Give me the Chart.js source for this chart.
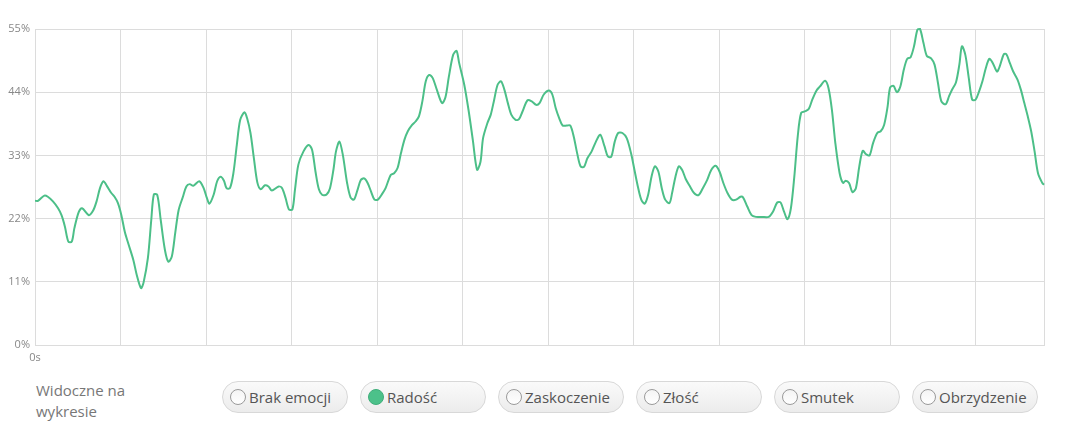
<!DOCTYPE html>
<html>
<head>
<meta charset="utf-8">
<script src="https://cdn.jsdelivr.net/npm/chart.js@4"></script>
<style>
  html, body { margin: 0; padding: 0; background: #fff; }
  body { width: 1078px; height: 437px; position: relative; overflow: hidden; font-family: "Open Sans", sans-serif; }
  #wrap { position: absolute; left: 0; top: 0; width: 1078px; height: 370px; }
  .caption { position: absolute; left: 36px; top: 380px; font-size: 15px; line-height: 21px; color: #777; }
  .pill {
    position: absolute; top: 381px; width: 124px; height: 30px;
    border: 1px solid #d8d8d8; border-radius: 16px;
    background: linear-gradient(#fafafa, #ececec);
    font-size: 15px; line-height: 30px; color: #555; box-sizing: content-box;
  }
  .pill .dot {
    position: absolute; left: 7px; top: 7px; width: 14px; height: 14px; border-radius: 50%;
    border: 1px solid #9a9a9a; background: linear-gradient(#f4f4f4, #fff);
  }
  .pill.on .dot { background: #4cc18a; border-color: #3fae7a; }
  .pill span { position: absolute; left: 26px; top: 0; }
</style>
</head>
<body>
<div id="wrap"><canvas id="chart"></canvas></div>
<div class="caption">Widoczne na<br>wykresie</div>
<div id="pills"></div>
<script>
// ===== DATA =====
const seconds = [
  0, 0.35, 1.1, 1.5, 2.1, 2.7, 3.1, 3.5, 3.9, 4.3, 4.6, 5.1, 5.5, 6.3, 6.8, 7.2, 7.6, 8.0, 8.4, 8.9,
  9.3, 9.7, 10.1, 10.5, 10.9, 11.5, 11.9, 12.4, 12.7, 13.2, 13.6, 13.9, 14.3, 14.7, 15.2, 15.6, 16.0, 16.4, 16.8, 17.3,
  17.7, 18.1, 18.5, 19.2, 19.7, 20.1, 20.4, 20.9, 21.3, 21.7, 22.1, 22.4, 22.8, 23.2, 23.6, 24.0, 24.5, 24.8, 25.2, 25.6,
  26.0, 26.4, 26.9, 27.3, 27.7, 28.5, 28.9, 29.3, 29.7, 30.1, 30.4, 30.8, 31.4, 32.0, 32.4, 32.8, 33.2, 33.6, 34.1, 34.5,
  34.9, 35.2, 35.6, 36.0, 36.5, 36.9, 37.3, 37.7, 38.1, 38.5, 38.9, 39.3, 39.7, 40.1, 40.6, 41.0, 41.6, 42.0, 42.4, 42.8,
  43.2, 43.6, 44.1, 44.5, 44.9, 45.3, 45.7, 46.1, 46.5, 47.0, 47.6, 48.0, 48.4, 48.9, 49.3, 49.6, 50.2, 50.7, 51.2, 51.7,
  52.1, 52.4, 52.9, 53.3, 53.7, 54.1, 54.5, 54.9, 55.3, 55.7, 56.2, 56.6, 57.0, 57.6, 58.1, 58.6, 59.0, 59.5, 60.1, 60.5,
  60.9, 61.3, 61.7, 62.2, 62.6, 63.0, 63.4, 63.8, 64.2, 64.6, 65.1, 65.6, 66.1, 66.6, 67.0, 67.4, 67.8, 68.2, 68.7, 69.2,
  69.7, 70.1, 70.5, 70.9, 71.3, 71.7, 72.1, 72.5, 72.9, 73.3, 73.7, 74.2, 74.5, 74.9, 75.3, 75.7, 76.1, 76.6, 77.1, 77.6,
  78.1, 78.6, 79.1, 79.6, 80.05, 80.5, 81.0, 81.5, 82.0, 82.5, 82.8, 83.3, 83.8, 84.3, 85.0, 85.8, 86.3, 86.8, 87.2, 87.6,
  88.0, 88.4, 88.8, 89.2, 89.6, 90.1, 90.5, 90.9, 91.4, 91.8, 92.4, 92.8, 93.2, 93.6, 94.1, 94.5, 94.8, 95.2, 95.6, 96.0,
  96.4, 96.8, 97.2, 97.6, 98.0, 98.5, 98.9, 99.3, 99.7, 100.0, 100.4, 100.8, 101.2, 101.6, 102.0, 102.4, 102.8, 103.2, 103.5, 103.9,
  104.3, 104.8, 105.2, 105.6, 106.0, 106.5, 106.9, 107.2, 107.7, 108.1, 108.4, 108.8, 109.2, 109.6, 110.0, 110.4, 110.8, 111.2, 111.6, 112.0,
  112.5, 112.8, 113.3, 113.6, 114.0, 114.4, 114.9, 115.3, 115.7, 116.1, 116.5, 116.9, 117.3, 117.8, 118.0
];
const joy = [
  25.1, 25.1, 26.0, 25.8, 25.0, 23.8, 22.6, 20.6, 18.0, 18.0, 20.3, 23.1, 23.8, 22.6, 23.4, 25.0, 27.3, 28.5, 27.7, 26.5,
  25.8, 24.7, 22.6, 19.7, 17.7, 14.8, 12.2, 9.9, 10.9, 15.1, 21.8, 26.2, 26.1, 21.8, 16.5, 14.5, 15.4, 19.5, 23.5, 25.8,
  27.6, 28.0, 27.7, 28.5, 27.4, 25.6, 24.6, 26.2, 28.5, 29.3, 28.6, 27.3, 27.3, 29.9, 34.8, 39.2, 40.5, 39.5, 36.9, 32.5,
  28.3, 27.1, 27.8, 27.6, 26.9, 27.6, 27.3, 25.6, 23.6, 23.6, 27.0, 31.4, 33.7, 34.8, 34.0, 30.2, 27.1, 26.1, 26.2, 27.3,
  30.5, 33.7, 35.4, 33.1, 28.2, 25.7, 25.3, 26.9, 28.7, 29.0, 28.2, 26.7, 25.3, 25.3, 26.3, 27.3, 29.6, 29.9, 30.8, 33.4,
  35.7, 37.2, 38.3, 38.9, 39.8, 42.4, 45.9, 47.0, 46.5, 44.4, 42.1, 43.1, 46.7, 50.5, 51.2, 49.1, 45.3, 40.9, 35.7, 30.5,
  31.9, 36.0, 38.6, 40.1, 42.7, 45.3, 45.9, 44.4, 42.1, 40.1, 39.2, 39.3, 40.6, 42.6, 42.4, 41.8, 42.1, 43.6, 44.3, 43.6,
  41.2, 39.5, 38.2, 38.2, 38.2, 36.3, 33.4, 31.1, 31.0, 32.5, 33.7, 35.4, 36.6, 34.6, 32.8, 32.8, 35.4, 36.9, 36.9, 36.0,
  33.4, 30.5, 27.6, 25.3, 24.6, 26.1, 29.3, 31.1, 30.2, 27.3, 25.3, 24.7, 26.4, 29.3, 31.1, 30.4, 28.9, 27.6, 26.4, 26.1,
  27.3, 28.7, 30.5, 31.2, 30.2, 28.2, 26.4, 25.3, 25.3, 25.8, 25.7, 24.1, 22.6, 22.3, 22.3, 22.3, 23.2, 24.8, 24.8, 23.2,
  21.9, 23.8, 29.3, 36.3, 40.4, 40.7, 41.1, 42.7, 44.3, 45.0, 46.0, 44.7, 40.9, 35.1, 29.9, 28.2, 28.6, 28.2, 26.6, 27.3,
  31.1, 33.8, 33.2, 33.0, 35.1, 36.9, 37.2, 38.3, 41.4, 44.8, 45.1, 44.0, 45.0, 47.9, 49.8, 50.1, 52.0, 54.9, 55.0, 52.6,
  50.3, 49.9, 48.8, 45.6, 42.4, 41.9, 43.3, 44.3, 45.7, 48.8, 52.0, 50.5, 46.5, 42.7, 42.7, 44.1, 45.9, 48.2, 49.8, 49.1,
  47.6, 48.4, 50.6, 50.6, 49.1, 47.6, 46.2, 44.4, 42.1, 39.8, 37.2, 33.7, 29.9, 28.2, 27.9
];
const yTicks = [0, 11, 22, 33, 44, 55];
const emotions = ['Brak emocji', 'Radość', 'Zaskoczenie', 'Złość', 'Smutek', 'Obrzydzenie'];
const activeEmotion = 'Radość';

// ===== TOGGLES =====
const pills = document.getElementById('pills');
emotions.forEach((name, i) => {
  const el = document.createElement('div');
  el.className = 'pill' + (name === activeEmotion ? ' on' : '');
  el.style.left = (222 + i * 138) + 'px';
  el.innerHTML = '<div class="dot"></div><span>' + name + '</span>';
  pills.appendChild(el);
});

// ===== CHART =====
const gridColor = '#dcdcdc';
new Chart(document.getElementById('chart'), {
  type: 'line',
  data: {
    datasets: [{
      data: seconds.map((s, i) => ({ x: s, y: joy[i] })),
      borderColor: '#4cbf88',
      borderWidth: 2,
      pointRadius: 0,
      fill: false,
      tension: 0.3,
      clip: false
    }]
  },
  options: {
    responsive: true,
    maintainAspectRatio: false,
    animation: false,
    layout: { padding: { top: 29, right: 34, left: 0, bottom: 0 } },
    plugins: { legend: { display: false }, tooltip: { enabled: false } },
    scales: {
      x: {
        type: 'linear', min: 0, max: 118,
        afterFit: s => { s.height = 25; },
        ticks: {
          stepSize: 10, autoSkip: false, maxRotation: 0, padding: 6,
          color: '#888', font: { family: 'Open Sans', size: 11 },
          callback: v => v === 0 ? '0s' : ''
        },
        grid: { color: gridColor, drawTicks: false },
        border: { color: gridColor }
      },
      y: {
        min: 0, max: 55,
        afterFit: s => { s.width = 35; },
        afterBuildTicks: s => { s.ticks = yTicks.map(v => ({ value: v })); },
        ticks: {
          padding: 5, color: '#888', font: { family: 'Open Sans', size: 11 },
          callback: v => v + '%'
        },
        grid: { color: gridColor, drawTicks: false },
        border: { color: gridColor }
      }
    }
  }
});
</script>
</body>
</html>
